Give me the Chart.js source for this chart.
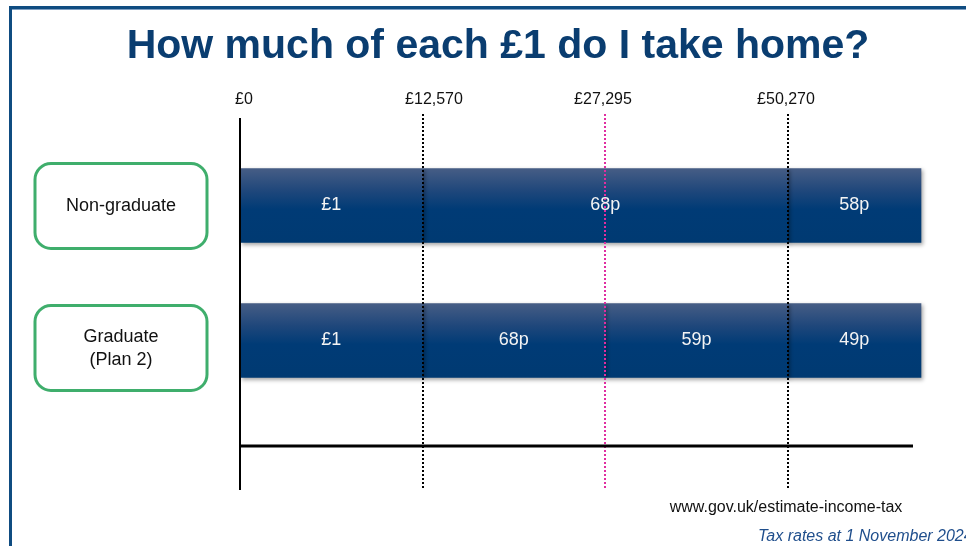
<!DOCTYPE html>
<html>
<head>
<meta charset="utf-8">
<script src="https://cdn.jsdelivr.net/npm/chart.js"></script>
<style>
  html, body { margin: 0; padding: 0; background: #fff; }
  canvas { display: block; }
</style>
</head>
<body>
<canvas id="takeHome" width="966" height="546"></canvas>
<script>
// Chart data
const titleText  = 'How much of each £1 do I take home?';
const thresholds = ['£0', '£12,570', '£27,295', '£50,270'];
const groups     = ['Non-graduate', ['Graduate', '(Plan 2)']];
const nonGraduate = ['£1', '68p', '68p', '58p'];   // take home per band
const graduate    = ['£1', '68p', '59p', '49p'];
const sourceText = 'www.gov.uk/estimate-income-tax';
const dateText   = 'Tax rates at 1 November 2024';

const tailWidth = 0.73;   // last band is open ended, drawn shorter

// same neighbouring values are merged into one segment
function segmentsOf(row) {
    const segs = [];
    row.forEach((v, i) => {
        const end = i === row.length - 1 ? i + tailWidth : i + 1;
        const last = segs[segs.length - 1];
        if (last && last.label === v) last.to = end;
        else segs.push({ from: i, to: end, label: v });
    });
    return segs;
}

const rowSegs = [nonGraduate, graduate].map(segmentsOf);
const nSegs = Math.max(...rowSegs.map(s => s.length));

function barGradient(c) {
    const chart = c.chart;
    const ys = chart.scales.y;
    if (!ys || !chart.chartArea) return '#003a73';
    const yc = ys.getPixelForValue(c.dataIndex);
    const g = chart.ctx.createLinearGradient(0, yc - 37, 0, yc + 37);
    g.addColorStop(0, '#465d85');
    g.addColorStop(0.3, '#1f477b');
    g.addColorStop(0.55, '#003b76');
    g.addColorStop(1, '#003a72');
    return g;
}

const datasets = [];
for (let k = 0; k < nSegs; k++) {
    datasets.push({
        data: rowSegs.map(s => s[k] ? [s[k].from, s[k].to] : null),
        segLabels: rowSegs.map(s => s[k] ? s[k].label : ''),
        backgroundColor: barGradient,
        borderWidth: 0,
        barThickness: 74,
        grouped: false,
        clip: false
    });
}

const font = '"Liberation Sans", Arial, sans-serif';

const slidePlugin = {
    id: 'slide',
    beforeDraw(chart) {
        const ctx = chart.ctx;
        ctx.save();
        ctx.fillStyle = '#fff';
        ctx.fillRect(0, 0, chart.width, chart.height);
        // slide frame
        ctx.fillStyle = '#0f4c81';
        ctx.fillRect(9, 6, chart.width - 9, 3);
        ctx.fillRect(9, 6, 3, chart.height - 6);
        ctx.fillStyle = '#7f9fc2';
        ctx.fillRect(12, 9, chart.width - 12, 1);

        ctx.fillStyle = '#0a3d70';
        ctx.font = 'bold 41px ' + font;
        ctx.textAlign = 'center';
        ctx.textBaseline = 'alphabetic';
        ctx.fillText(titleText, 498, 58);
        ctx.restore();
    },
    beforeDatasetsDraw(chart) {
        const ctx = chart.ctx;
        ctx.save();
        ctx.shadowColor = 'rgba(0,0,0,0.35)';
        ctx.shadowBlur = 4;
        ctx.shadowOffsetX = 2;
        ctx.shadowOffsetY = 2;
    },
    afterDatasetsDraw(chart) {
        const ctx = chart.ctx;
        ctx.restore();
        const xs = chart.scales.x, ys = chart.scales.y;
        const x0 = xs.getPixelForValue(0);

        ctx.save();
        // threshold lines + labels
        const labelShift = [4, 11, -2, -2];
        thresholds.forEach((t, i) => {
            const x = Math.round(xs.getPixelForValue(i));
            if (i > 0) {
                ctx.beginPath();
                ctx.strokeStyle = i === 2 ? '#e02ea0' : '#000';
                ctx.lineWidth = 2;
                ctx.setLineDash([2, 2]);
                ctx.moveTo(x, 114);
                ctx.lineTo(x, 490);
                ctx.stroke();
                ctx.setLineDash([]);
            }
            ctx.fillStyle = '#111';
            ctx.font = '16px ' + font;
            ctx.textAlign = 'center';
            ctx.textBaseline = 'middle';
            ctx.fillText(t, x + labelShift[i], 100);
        });

        // axes
        ctx.strokeStyle = '#000';
        ctx.lineWidth = 2;
        ctx.beginPath();
        ctx.moveTo(x0, 118);
        ctx.lineTo(x0, 490);
        ctx.stroke();
        ctx.lineWidth = 3;
        ctx.beginPath();
        ctx.moveTo(x0, 446);
        ctx.lineTo(913, 446);
        ctx.stroke();

        // labels inside bars
        ctx.fillStyle = '#f4f4f4';
        ctx.font = '18px ' + font;
        ctx.textAlign = 'center';
        ctx.textBaseline = 'middle';
        chart.data.datasets.forEach((ds, di) => {
            chart.getDatasetMeta(di).data.forEach((el, i) => {
                if (!ds.data[i]) return;
                ctx.fillText(ds.segLabels[i], (el.x + el.base) / 2, el.y);
            });
        });

        // group boxes on the left
        const boxShift = [0, 7];
        groups.forEach((g, i) => {
            const yc = ys.getPixelForValue(i) + boxShift[i];
            ctx.beginPath();
            ctx.roundRect(35, yc - 42, 172, 85, 16);
            ctx.strokeStyle = '#3fae6c';
            ctx.lineWidth = 3;
            ctx.stroke();
            ctx.fillStyle = '#111';
            ctx.font = '18px ' + font;
            const lines = Array.isArray(g) ? g : [g];
            lines.forEach((ln, j) => {
                ctx.fillText(ln, 121, yc + 1 + (j - (lines.length - 1) / 2) * 22.5);
            });
        });

        // footer
        ctx.fillStyle = '#111';
        ctx.font = '16px ' + font;
        ctx.fillText(sourceText, 786, 508);
        ctx.fillStyle = '#1f4e8c';
        ctx.font = 'italic 16px ' + font;
        ctx.textAlign = 'left';
        ctx.fillText(dateText, 758, 537);
        ctx.restore();
    }
};

new Chart(document.getElementById('takeHome'), {
    type: 'bar',
    data: { labels: groups, datasets: datasets },
    options: {
        indexAxis: 'y',
        responsive: false,
        animation: false,
        layout: { padding: { left: 240, right: 45, top: 138, bottom: 138 } },
        scales: {
            x: { type: 'linear', min: 0, max: thresholds.length - 1 + tailWidth, display: false },
            y: { type: 'category', display: false }
        },
        plugins: {
            legend: { display: false },
            tooltip: { enabled: false }
        }
    },
    plugins: [slidePlugin]
});
</script>
</body>
</html>
